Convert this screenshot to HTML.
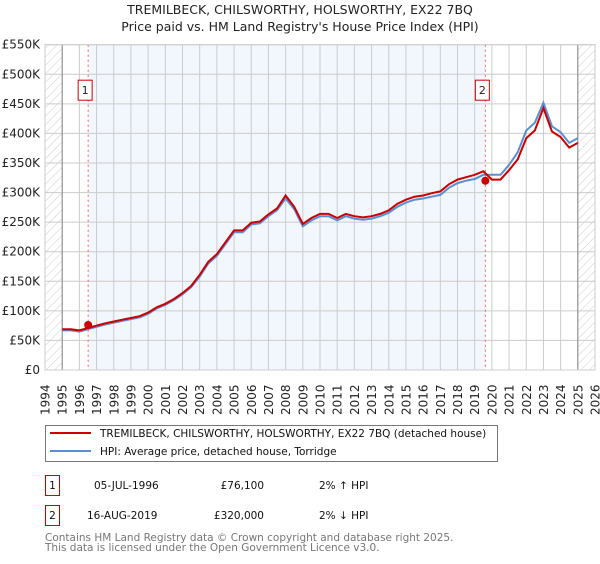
<!DOCTYPE html>
<html><head><meta charset="utf-8"><style>
body{margin:0;background:#fff;font-family:"DejaVu Sans","Liberation Sans",sans-serif;}
svg text{font-family:"DejaVu Sans","Liberation Sans",sans-serif;}
</style></head><body>
<svg id="c" width="600" height="560" xmlns="http://www.w3.org/2000/svg">
<defs><pattern id="h" width="6" height="6" patternUnits="userSpaceOnUse" patternTransform="rotate(45)"><line x1="0" y1="0" x2="0" y2="6" stroke="#ccc" stroke-width="1"/></pattern></defs>
<text x="300" y="14" text-anchor="middle" font-size="12.5" fill="#222">TREMILBECK, CHILSWORTHY, HOLSWORTHY, EX22 7BQ</text>
<text x="300" y="31" text-anchor="middle" font-size="12.5" fill="#222">Price paid vs. HM Land Registry's House Price Index (HPI)</text>
<g id="plot"></g>
<g>
<rect x="45.5" y="425.5" width="452" height="36" fill="#fff" stroke="#777"/>
<line x1="50" y1="433" x2="91" y2="433" stroke="#cc0000" stroke-width="2"/>
<text x="100" y="437" font-size="10.5" fill="#111">TREMILBECK, CHILSWORTHY, HOLSWORTHY, EX22 7BQ (detached house)</text>
<line x1="50" y1="451" x2="91" y2="451" stroke="#5b8fd4" stroke-width="2"/>
<text x="100" y="455" font-size="10.5" fill="#111">HPI: Average price, detached house, Torridge</text>
</g>
<g font-size="10.5" fill="#111">
<rect x="45.5" y="475.5" width="14" height="20" fill="none" stroke="#cc0000"/>
<text x="52.5" y="489" text-anchor="middle">1</text>
<text x="94" y="489">05-JUL-1996</text>
<text x="264" y="489" text-anchor="end">£76,100</text>
<text x="319" y="489">2% ↑ HPI</text>
<rect x="45.5" y="505.5" width="14" height="20" fill="none" stroke="#cc0000"/>
<text x="52.5" y="519" text-anchor="middle">2</text>
<text x="87" y="519">16-AUG-2019</text>
<text x="264" y="519" text-anchor="end">£320,000</text>
<text x="319" y="519">2% ↓ HPI</text>
</g>
<text x="45" y="541" font-size="10.5" fill="#777">Contains HM Land Registry data © Crown copyright and database right 2025.</text>
<text x="45" y="551" font-size="10.5" fill="#777">This data is licensed under the Open Government Licence v3.0.</text>
</svg>
<script>
const years=[1995,1995.5,1996,1996.5,1997,1997.5,1998,1998.5,1999,1999.5,2000,2000.5,2001,2001.5,2002,2002.5,2003,2003.5,2004,2004.5,2005,2005.5,2006,2006.5,2007,2007.5,2008,2008.5,2009,2009.5,2010,2010.5,2011,2011.5,2012,2012.5,2013,2013.5,2014,2014.5,2015,2015.5,2016,2016.5,2017,2017.5,2018,2018.5,2019,2019.5,2020,2020.5,2021,2021.5,2022,2022.5,2023,2023.5,2024,2024.5,2025];
const hpiValues=[67,67,65,69,73,77,80,83,86,89,95,104,110,118,128,140,158,180,193,213,233,233,246,248,260,270,290,272,243,253,260,260,253,260,256,254,256,260,266,276,283,288,290,293,296,308,316,320,323,330,330,330,347,368,405,418,452,412,402,384,392];
const priceValues=[69,69,67,71,75,79,82,85,88,91,97,106,112,120,130,142,161,183,196,216,236,236,249,251,263,273,295,276,247,257,264,264,257,264,260,258,260,264,270,281,288,293,295,299,302,314,322,326,330,336,322,322,338,356,392,405,443,403,394,376,384];
const yTicks=[0,50,100,150,200,250,300,350,400,450,500,550];
const xTicks=[1994,1995,1996,1997,1998,1999,2000,2001,2002,2003,2004,2005,2006,2007,2008,2009,2010,2011,2012,2013,2014,2015,2016,2017,2018,2019,2020,2021,2022,2023,2024,2025,2026];
const sales=[[1996.51,76.1,'1'],[2019.62,320,'2']];
const X=t=>45+(t-1994)*(550/32);
const Y=v=>370-v*(325.3/550);
const ns='http://www.w3.org/2000/svg';
const g=document.getElementById('plot');
function mk(tag,at){const e=document.createElementNS(ns,tag);for(const k in at)e.setAttribute(k,at[k]);g.appendChild(e);return e;}
const bg=mk('rect',{x:X(1994),y:Y(550),width:X(2026)-X(1994),height:Y(0)-Y(550),fill:'#fff'});


const sh=mk('rect',{x:X(sales[0][0]),y:Y(550),width:X(sales[1][0])-X(sales[0][0]),height:Y(0)-Y(550),fill:'#f2f6fd'});


const h1=mk('rect',{x:X(1994),y:Y(550),width:X(1995)-X(1994),height:Y(0)-Y(550),fill:'url(#h)'});


const h2=mk('rect',{x:X(2025),y:Y(550),width:X(2026)-X(2025),height:Y(0)-Y(550),fill:'url(#h)'});


yTicks.forEach(v=>{const l=mk('line',{x1:X(1994),x2:X(2026),y1:Y(v),y2:Y(v),stroke:'#ccc'});


const t=mk('text',{x:40,y:Y(v)+4,'text-anchor':'end','font-size':'12',fill:'#222'});t.textContent=v===0?'£0':'£'+v+'K';

});
xTicks.forEach(yr=>{const l=mk('line',{x1:X(yr),x2:X(yr),y1:Y(550),y2:Y(0),stroke:'#ccc'});


const t=mk('text',{transform:`translate(${X(yr)+4.5},${Y(0)+45}) rotate(-90)`,'font-size':'12',fill:'#222'});t.textContent=yr;

});
[1995,2025].forEach(yr=>{const l=mk('line',{x1:X(yr),x2:X(yr),y1:Y(550),y2:Y(0),stroke:'#888'});

});
sales.forEach(s=>{const l=mk('line',{x1:X(s[0]),x2:X(s[0]),y1:Y(550),y2:Y(0),stroke:'#f06060','stroke-dasharray':'2,3'});


const r=mk('rect',{x:X(s[0])-10,y:Y(490),width:14,height:20,fill:'#fff',stroke:'#cc0000'});


const t=mk('text',{x:X(s[0])-3,y:Y(490)+14,'text-anchor':'middle','font-size':'11',fill:'#222'});t.textContent=s[2];

});
const pts=a=>a.map((v,i)=>X(years[i]).toFixed(1)+','+Y(v).toFixed(1)).join(' ');
const hl=mk('polyline',{points:pts(hpiValues),fill:'none',stroke:'#5b8fd4','stroke-width':2});


const pl=mk('polyline',{points:pts(priceValues),fill:'none',stroke:'#cc0000','stroke-width':2});


sales.forEach(s=>{const c=mk('circle',{cx:X(s[0]),cy:Y(s[1]),r:4,fill:'#cc0000'});

});
const fr=mk('rect',{x:X(1994),y:Y(550),width:X(2026)-X(1994),height:Y(0)-Y(550),fill:'none',stroke:'#ccc'});


</script>
</body></html>
